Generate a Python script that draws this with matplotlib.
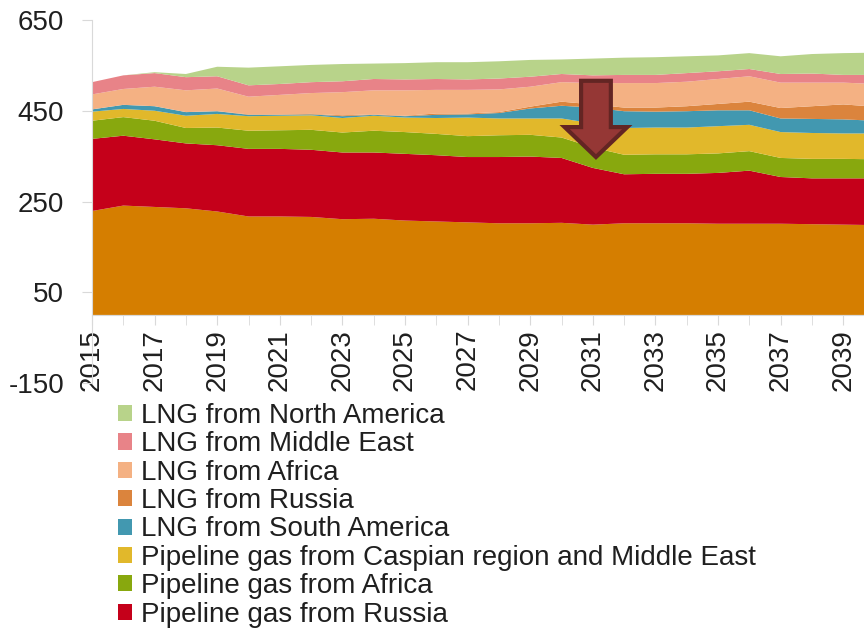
import numpy as np
import matplotlib.pyplot as plt
from matplotlib.patches import FancyArrow

plt.rcParams['font.family'] = ['Liberation Sans', 'DejaVu Sans']
plt.rcParams['axes.unicode_minus'] = False

years = np.arange(2015, 2041)

# stacked layers, bottom to top
domestic = [229, 241, 238, 235, 228, 217, 217, 216, 211, 212, 208, 206, 204,
            202, 202, 203, 199, 202, 202, 202, 201, 201, 201, 200, 199, 198]
pipe_russia = [159, 154, 149, 143, 146, 149, 149, 148, 147, 146, 147, 146, 144,
               146, 147, 143, 125, 108, 109, 109, 112, 117, 103, 101, 102, 103]
pipe_africa = [40, 41, 41, 34, 39, 40, 41, 44, 44, 48, 48, 47, 46,
               48, 48, 45, 45, 43, 43, 43, 43, 43, 42, 43, 43, 42]
pipe_caspian = [20, 18, 22, 27, 30, 32, 32, 32, 32, 33, 32, 35, 41,
                37, 36, 42, 53, 59, 59, 59, 60, 58, 57, 57, 56, 57]
lng_samerica = [5, 9, 10, 8, 6, 3, 2, 2, 4, 2, 3, 7, 7,
                12, 22, 28, 35, 37, 35, 36, 35, 32, 30, 31, 31, 28]
lng_russia = [0, 0, 0, 0, 0, 1, 1, 1, 2, 1, 1, 3, 2,
              2, 4, 9, 7, 8, 9, 11, 14, 19, 23, 28, 33, 31]
lng_africa = [33, 35, 43, 48, 50, 39, 43, 46, 51, 53, 56, 52, 52,
              50, 44, 43, 47, 54, 54, 54, 55, 56, 56, 52, 48, 50]
lng_mideast = [27, 30, 30, 29, 27, 25, 24, 24, 24, 25, 24, 24, 23,
               24, 22, 18, 17, 18, 18, 19, 17, 16, 19, 20, 17, 20]
lng_namerica = [0, 0, 2, 7, 21, 39, 39, 38, 38, 34, 36, 37, 38,
                38, 37, 32, 37, 38, 39, 37, 35, 35, 39, 43, 48, 49]

layers = [domestic, pipe_russia, pipe_africa, pipe_caspian, lng_samerica,
          lng_russia, lng_africa, lng_mideast, lng_namerica]
labels = ['Domestic production', 'Pipeline gas from Russia', 'Pipeline gas from Africa',
          'Pipeline gas from Caspian region and Middle East', 'LNG from South America',
          'LNG from Russia', 'LNG from Africa', 'LNG from Middle East',
          'LNG from North America']
colors = ['#D57E00', '#C5001A', '#88A80E', '#E1B82B', '#4298B0',
          '#DB843D', '#F4B183', '#E88388', '#B8D38A']

txt = '#1F1F1F'
grey = '#D9D9D9'

fig = plt.figure(figsize=(8.64, 6.29), dpi=100)
ax = fig.add_axes([0.1065, 0.3911, 0.9057, 0.5771])

polys = ax.stackplot(years, layers, colors=colors, labels=labels, linewidth=0)

# arrow marking the drop after 2030
arr = FancyArrow(2031.1, 516, 0, -168, width=0.95, head_width=2.0, head_length=66,
                 length_includes_head=True, facecolor='#953735',
                 edgecolor='#632523', linewidth=3, zorder=5)
ax.add_patch(arr)

ax.set_xlim(2015, 2040)
ax.set_ylim(-150, 650)
ax.set_yticks([-150, 50, 250, 450, 650])
ax.set_xticks(np.arange(2015, 2040, 2))
ax.set_xticks(np.arange(2016, 2041, 2), minor=True)

ax.spines['top'].set_visible(False)
ax.spines['right'].set_visible(False)
ax.spines['left'].set_color(grey)
ax.spines['bottom'].set_color(grey)
ax.spines['bottom'].set_position(('data', 0))

ax.tick_params(axis='y', length=7, color=grey, labelsize=20, labelcolor=txt, pad=13)
ax.tick_params(axis='x', which='both', length=7, color=grey, labelsize=20,
               labelcolor=txt, labelrotation=90, pad=3)

handles = polys[1:][::-1]
ax.legend(handles, [h.get_label() for h in handles], loc='upper left',
          bbox_to_anchor=(0.1366, 1 - 403 / 629), bbox_transform=fig.transFigure,
          frameon=False, fontsize=20, labelcolor=txt, borderpad=0, borderaxespad=0,
          handlelength=0.52, handleheight=0.52, handletextpad=0.3, labelspacing=0.085)

fig.savefig('out.png', dpi=100)
